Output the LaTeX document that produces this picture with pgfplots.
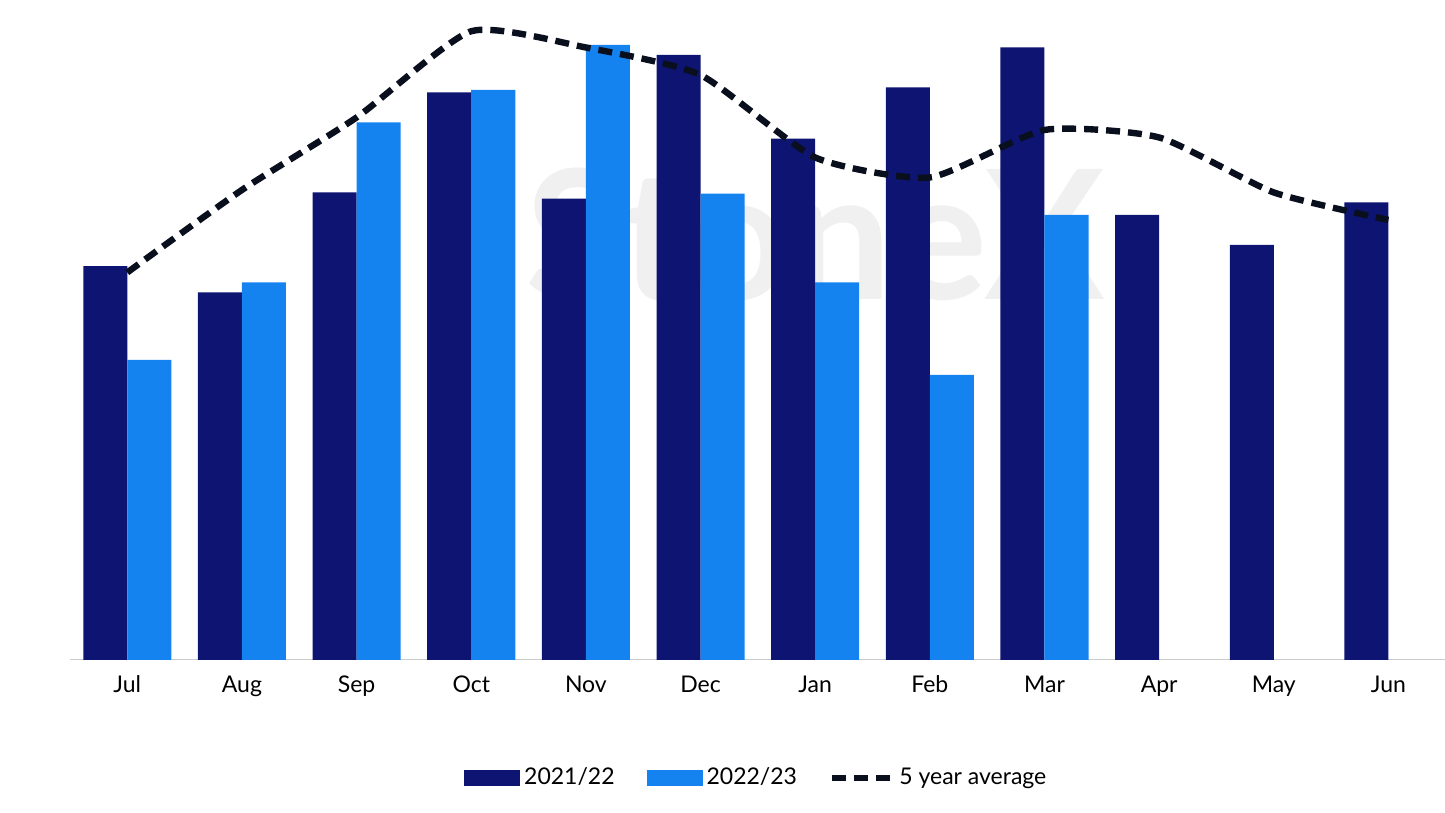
\documentclass[border=0pt]{standalone}
\usepackage{pgfplots}
\pgfplotsset{compat=1.18}
\usepackage{fontspec}
\setmainfont{Lato}
\definecolor{dk}{HTML}{0D1472}
\definecolor{lt}{HTML}{1483F0}
\definecolor{ln}{HTML}{0A0F1E}
\begin{document}
\fontsize{11.5pt}{14pt}\selectfont
\begin{tikzpicture}
\begin{axis}[
  scale only axis, width=687.5pt, height=312.5pt,
  xmin=-0.5, xmax=11.49, ymin=1, ymax=3.5,
  xtick={0,...,11}, xticklabels={Jul,Aug,Sep,Oct,Nov,Dec,Jan,Feb,Mar,Apr,May,Jun},
  ytick={1,1.5,...,3.5},
  yticklabel style={/pgf/number format/.cd,use comma,fixed,fixed zerofill,precision=1},
  /pgf/number format/assume math mode=true,
  tick style={draw=none},
  axis x line*=bottom, axis y line=none,
  x axis line style={draw=gray!40},
  ymajorgrids, grid style={gray!25},
  xticklabel style={yshift=-4pt},
  clip=false,
  legend style={at={(0.5,-0.189)},anchor=center,draw=none,legend columns=3,
    /tikz/every even column/.append style={column sep=14pt}},
  legend image code/.code={\fill[#1] (0pt,-4pt) rectangle (28pt,4pt);},
]
\node[text=gray!12,font=\fontsize{90pt}{90pt}\selectfont\bfseries] at (axis cs:6,2.7) {StoneX};
\addplot[ybar, bar width=0.384, bar shift=-0.192, fill=dk, draw=none] coordinates {
(0,2.575)(1,2.47)(2,2.87)(3,3.27)(4,2.845)(5,3.42)(6,3.085)(7,3.29)(8,3.45)(9,2.78)(10,2.66)(11,2.83)};
\addlegendentry{2021/22}
\addplot[ybar, bar width=0.384, bar shift=0.192, fill=lt, draw=none] coordinates {
(0,2.20)(1,2.51)(2,3.15)(3,3.28)(4,3.46)(5,2.865)(6,2.51)(7,2.14)(8,2.78)};
\addlegendentry{2022/23}
\addplot[ln, line width=3.2pt, dash pattern=on 7pt off 4pt, smooth, tension=0.35,
  legend image code/.code={\draw[ln,line width=3.2pt,dash pattern=on 7pt off 4pt] (0pt,0pt)--(30pt,0pt);}] coordinates {
(0,2.55)(1,2.88)(2,3.17)(3,3.515)(4,3.45)(5,3.34)(6,3.01)(7,2.93)(8,3.12)(9,3.09)(10,2.87)(11,2.76)};
\addlegendentry{5 year average}
\end{axis}
\path (current axis.south west) ++(-35pt,-76.5pt) coordinate (bl);
\path (current axis.north east) ++(0pt,17.5pt) coordinate (tr);
\useasboundingbox (bl) rectangle (tr);
\end{tikzpicture}
\end{document}
